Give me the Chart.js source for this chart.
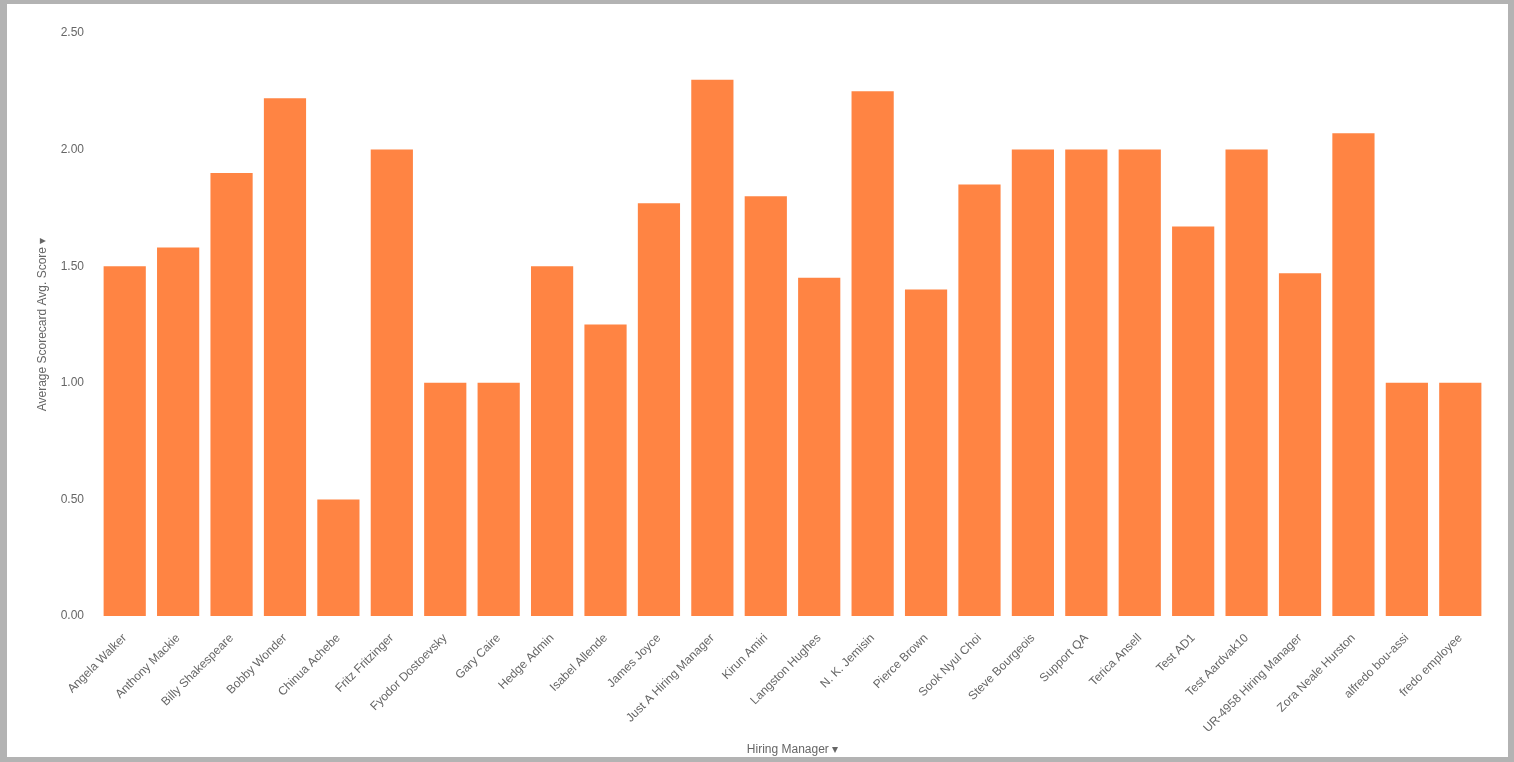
<!DOCTYPE html>
<html>
<head>
<meta charset="utf-8">
<script src="https://cdn.jsdelivr.net/npm/chart.js@4.4.1/dist/chart.umd.min.js"></script>
<style>
  html, body { margin: 0; padding: 0; background: #b3b3b3; width: 1514px; height: 762px; overflow: hidden; }
  #box { position: absolute; left: 7px; top: 4px; width: 1501px; height: 753px; background: #ffffff; }
  canvas { display: block; }
</style>
</head>
<body>
<div id="box"><canvas id="c" width="1501" height="753"></canvas></div>
<script>
const categories = [
  "Angela Walker", "Anthony Mackie", "Billy Shakespeare", "Bobby Wonder", "Chinua Achebe",
  "Fritz Fritzinger", "Fyodor Dostoevsky", "Gary Caire", "Hedge Admin", "Isabel Allende",
  "James Joyce", "Just A Hiring Manager", "Kirun Amiri", "Langston Hughes", "N. K. Jemisin",
  "Pierce Brown", "Sook Nyul Choi", "Steve Bourgeois", "Support QA", "Terica Ansell",
  "Test AD1", "Test Aardvak10", "UR-4958 Hiring Manager", "Zora Neale Hurston", "alfredo bou-assi",
  "fredo employee"
];
const avgScores = [
  1.50, 1.58, 1.90, 2.22, 0.50,
  2.00, 1.00, 1.00, 1.50, 1.25,
  1.77, 2.30, 1.80, 1.45, 2.25,
  1.40, 1.85, 2.00, 2.00, 2.00,
  1.67, 2.00, 1.47, 2.07, 1.00,
  1.00
];
const yTicks = [0, 0.5, 1.0, 1.5, 2.0, 2.5];
const xTitle = "Hiring Manager \u25BE";
const yTitle = "Average Scorecard Avg. Score \u25BE";

const textColor = "#666666";
const fontFamily = "'Liberation Sans', Arial, sans-serif";

new Chart(document.getElementById("c"), {
  type: "bar",
  data: {
    labels: categories,
    datasets: [{
      label: "Average Scorecard Avg. Score",
      data: avgScores,
      backgroundColor: "#ff8443",
      borderWidth: 0,
      barPercentage: 0.79,
      categoryPercentage: 1.0
    }]
  },
  options: {
    responsive: false,
    animation: false,
    layout: { padding: { left: 24, right: 21, top: 29, bottom: 0 } },
    plugins: { legend: { display: false }, tooltip: { enabled: false } },
    scales: {
      x: {
        grid: { display: false, drawTicks: false },
        border: { display: false },
        ticks: {
          color: textColor, font: { family: fontFamily, size: 12 },
          minRotation: 45, maxRotation: 45, autoSkip: false, padding: 15
        },
        title: {
          display: true, text: xTitle, color: textColor,
          font: { family: fontFamily, size: 12 }, padding: { top: 0, bottom: 0 }
        },
        afterFit: (s) => { s.height = 141; }
      },
      y: {
        min: 0, max: 2.5,
        grid: { display: false, drawTicks: false },
        border: { display: false },
        afterBuildTicks: (s) => { s.ticks = yTicks.map(v => ({ value: v })); },
        ticks: {
          color: textColor, font: { family: fontFamily, size: 12 }, padding: 14,
          callback: (v) => Number(v).toFixed(2)
        },
        title: {
          display: true, text: yTitle, color: textColor,
          font: { family: fontFamily, size: 12 }, padding: { top: 4, bottom: 4 }
        },
        afterFit: (s) => { s.width = 67; }
      }
    }
  }
});
</script>
</body>
</html>
